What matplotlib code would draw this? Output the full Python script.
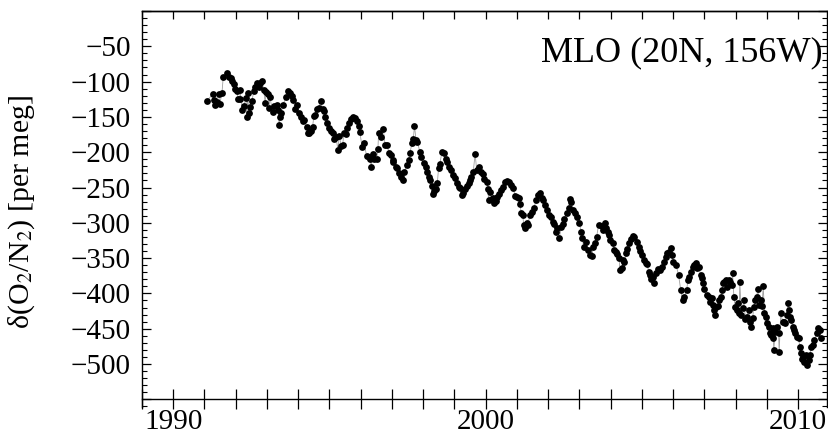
import numpy as np
import matplotlib
matplotlib.use("Agg")
import matplotlib.pyplot as plt
from matplotlib.ticker import MultipleLocator, FixedLocator, FuncFormatter

plt.rcParams['font.family'] = ['Liberation Serif', 'DejaVu Serif']
plt.rcParams['mathtext.fontset'] = 'stix'

# Flask record at Mauna Loa, decimal year and delta(O2/N2) in per meg
years_1991_1996 = [
    1991.07, 1991.26, 1991.30, 1991.35, 1991.39, 1991.45, 1991.49, 1991.56, 1991.60, 1991.73,
    1991.79, 1991.84, 1991.88, 1991.94, 1991.98, 1992.05, 1992.07, 1992.13, 1992.14, 1992.20,
    1992.26, 1992.33, 1992.35, 1992.39, 1992.41, 1992.45, 1992.52, 1992.58, 1992.62, 1992.69,
    1992.73, 1992.77, 1992.84, 1992.90, 1992.94, 1992.97, 1993.03, 1993.07, 1993.09, 1993.18,
    1993.24, 1993.31, 1993.35, 1993.39, 1993.41, 1993.46, 1993.50, 1993.61, 1993.67, 1993.73,
    1993.80, 1993.84, 1993.90, 1993.95, 1994.01, 1994.10, 1994.16, 1994.20, 1994.27, 1994.31,
    1994.35, 1994.40, 1994.46, 1994.50, 1994.54, 1994.61, 1994.67, 1994.72, 1994.78, 1994.84,
    1994.87, 1994.93, 1994.99, 1995.06, 1995.12, 1995.16, 1995.21, 1995.27, 1995.31, 1995.38,
    1995.42, 1995.46, 1995.53, 1995.57, 1995.63, 1995.70, 1995.76, 1995.82, 1995.87, 1995.93,
    1995.97, 1996.04, 1996.10, 1996.19, 1996.25, 1996.29, 1996.34, 1996.38, 1996.44, 1996.51,
    1996.55, 1996.57,
]
o2n2_1991_1996 = [
    -127.5, -118.0, -126.1, -133.6, -128.4, -118.0, -131.7, -115.7, -93.0, -87.3,
    -93.0, -95.4, -98.7, -103.4, -111.0, -112.8, -124.2, -124.2, -111.9, -140.2,
    -134.6, -122.8, -149.7, -116.6, -144.9, -135.5, -127.0, -112.8, -108.1, -102.5,
    -108.1, -101.5, -99.6, -111.9, -130.8, -114.3, -117.6, -137.9, -121.3, -142.6,
    -134.6, -133.1, -140.2, -161.5, -150.6, -144.9, -133.6, -122.3, -112.8, -115.7,
    -120.4, -126.1, -139.3, -133.6, -144.9, -150.6, -155.3, -154.4, -164.8, -173.3,
    -172.3, -169.5, -163.8, -148.7, -146.8, -139.3, -137.9, -127.0, -139.3, -141.2,
    -149.7, -158.2, -166.2, -169.5, -173.3, -180.8, -178.9, -196.9, -177.1, -191.2,
    -190.3, -173.3, -174.2, -165.7, -159.1, -153.4, -149.7, -152.0, -155.3, -162.9,
    -170.9, -192.2, -186.5, -205.4, -206.3, -209.2, -220.5, -202.5, -210.1, -210.1,
    -195.9, -173.3,
]

years_1996_2003 = [
    1996.66, 1996.72, 1996.78, 1996.83, 1996.91, 1996.96, 1997.02, 1997.04, 1997.13, 1997.17,
    1997.23, 1997.30, 1997.36, 1997.40, 1997.47, 1997.53, 1997.57, 1997.64, 1997.68, 1997.72,
    1997.77, 1997.81, 1997.89, 1997.94, 1998.02, 1998.09, 1998.13, 1998.17, 1998.21, 1998.28,
    1998.30, 1998.34, 1998.41, 1998.45, 1998.49, 1998.53, 1998.60, 1998.66, 1998.73, 1998.77,
    1998.83, 1998.90, 1998.96, 1999.02, 1999.09, 1999.13, 1999.17, 1999.24, 1999.28, 1999.34,
    1999.39, 1999.45, 1999.49, 1999.54, 1999.60, 1999.66, 1999.71, 1999.77, 1999.84, 1999.90,
    1999.96, 2000.03, 2000.07, 2000.09, 2000.13, 2000.20, 2000.24, 2000.28, 2000.33, 2000.37,
    2000.43, 2000.50, 2000.56, 2000.62, 2000.69, 2000.75, 2000.82, 2000.88, 2000.94, 2001.01,
    2001.05, 2001.09, 2001.14, 2001.18, 2001.22, 2001.26, 2001.31, 2001.35, 2001.41, 2001.48,
    2001.54, 2001.61, 2001.67, 2001.73, 2001.80, 2001.84, 2001.90, 2001.97, 2002.03, 2002.10,
    2002.16, 2002.20, 2002.25, 2002.29, 2002.35, 2002.42, 2002.46, 2002.52, 2002.59, 2002.65,
    2002.69, 2002.74, 2002.80, 2002.86, 2002.93, 2002.99, 2003.06, 2003.08, 2003.14, 2003.21,
    2003.27, 2003.33, 2003.40, 2003.44, 2003.50, 2003.55, 2003.61,
]
o2n2_1996_2003 = [
    -178.0, -166.7, -189.8, -189.8, -200.7, -204.0, -211.0, -213.4, -220.5, -222.8,
    -229.9, -235.6, -239.4, -227.6, -218.6, -211.0, -201.6, -187.4, -181.8, -162.9,
    -182.7, -185.1, -199.2, -207.3, -215.8, -220.5, -227.6, -234.7, -239.4, -247.9,
    -259.2, -254.5, -252.6, -244.1, -222.8, -216.7, -199.2, -201.6, -210.1, -213.4,
    -220.5, -225.2, -232.3, -237.0, -244.1, -248.8, -250.2, -260.6, -257.3, -252.6,
    -247.9, -243.2, -239.4, -234.7, -227.6, -202.5, -225.2, -220.5, -227.6, -230.9,
    -238.4, -241.7, -252.6, -267.7, -255.9, -266.8, -265.3, -272.4, -268.6, -263.0,
    -259.2, -253.5, -249.8, -241.7, -240.3, -241.7, -246.5, -251.2, -262.0, -263.0,
    -265.3, -273.4, -286.6, -289.0, -303.1, -307.8, -299.8, -303.1, -289.0, -284.2,
    -279.5, -267.7, -260.6, -257.3, -265.3, -267.7, -274.8, -281.9, -289.0, -292.3,
    -298.4, -301.7, -312.5, -307.8, -322.0, -306.4, -301.7, -295.1, -286.6, -279.5,
    -266.8, -270.1, -281.9, -286.6, -292.3, -300.7, -312.5, -322.0, -333.8, -326.7,
    -338.5, -345.6, -347.0, -333.8, -329.1, -319.6, -303.1,
]

years_2003_2010 = [
    2003.72, 2003.76, 2003.82, 2003.85, 2003.91, 2003.95, 2003.99, 2004.06, 2004.10, 2004.17,
    2004.21, 2004.27, 2004.29, 2004.36, 2004.40, 2004.44, 2004.49, 2004.53, 2004.59, 2004.66,
    2004.70, 2004.76, 2004.85, 2004.89, 2004.93, 2005.00, 2005.06, 2005.13, 2005.17, 2005.21,
    2005.25, 2005.30, 2005.34, 2005.40, 2005.45, 2005.51, 2005.57, 2005.64, 2005.70, 2005.77,
    2005.81, 2005.87, 2005.94, 2005.96, 2006.00, 2006.09, 2006.17, 2006.24, 2006.30, 2006.36,
    2006.43, 2006.47, 2006.51, 2006.56, 2006.62, 2006.68, 2006.73, 2006.77, 2006.81, 2006.88,
    2006.92, 2006.96, 2007.00, 2007.07, 2007.13, 2007.17, 2007.24, 2007.28, 2007.32, 2007.34,
    2007.37, 2007.43, 2007.47, 2007.52, 2007.56, 2007.60, 2007.64, 2007.69, 2007.73, 2007.77,
    2007.81, 2007.88, 2007.90, 2007.94, 2007.98, 2008.03, 2008.07, 2008.11, 2008.13, 2008.18,
    2008.22, 2008.26, 2008.31, 2008.35, 2008.41, 2008.45, 2008.50, 2008.54, 2008.58, 2008.62,
    2008.67, 2008.71, 2008.75, 2008.80, 2008.84, 2008.88, 2008.92, 2008.97, 2009.01, 2009.05,
    2009.09, 2009.14, 2009.18, 2009.20, 2009.22, 2009.26, 2009.31, 2009.37, 2009.39, 2009.44,
    2009.50, 2009.54, 2009.58, 2009.63, 2009.67, 2009.69, 2009.73, 2009.78, 2009.82, 2009.86,
    2009.90, 2009.95, 2010.01, 2010.05, 2010.10, 2010.12, 2010.16, 2010.20, 2010.25, 2010.29,
    2010.33, 2010.37, 2010.42, 2010.48, 2010.52, 2010.59, 2010.63, 2010.69, 2010.74,
]
o2n2_2003_2010 = [
    -304.5, -310.2, -299.8, -307.8, -312.5, -317.3, -324.4, -329.1, -338.5, -340.9,
    -344.2, -350.3, -366.9, -364.5, -352.7, -355.0, -343.2, -337.6, -329.1, -323.4,
    -318.7, -319.6, -326.7, -333.8, -339.5, -345.6, -352.7, -357.4, -358.4, -369.2,
    -373.9, -380.1, -376.3, -385.7, -371.6, -365.9, -366.9, -362.1, -355.0, -348.0,
    -343.2, -340.9, -336.2, -345.6, -355.0, -359.8, -373.9, -395.2, -409.3, -404.6,
    -395.2, -381.0, -376.3, -369.2, -362.1, -359.8, -357.4, -364.5, -362.1, -373.9,
    -378.7, -385.7, -394.2, -402.3, -404.6, -411.7, -407.0, -416.4, -423.5, -430.6,
    -419.7, -417.8, -409.3, -404.6, -395.2, -385.7, -383.4, -381.0, -390.5, -381.0,
    -383.4, -388.1, -371.6, -404.6, -418.8, -423.5, -414.1, -428.2, -383.4, -430.6,
    -421.1, -409.3, -436.7, -433.0, -423.5, -440.0, -447.1, -435.3, -418.8, -409.3,
    -404.6, -394.2, -416.4, -409.3, -417.8, -389.5, -428.2, -433.0, -442.4, -447.1,
    -455.6, -458.9, -449.5, -463.6, -480.2, -454.2, -447.1, -456.6, -482.5, -428.2,
    -440.0, -440.0, -442.4, -430.6, -414.1, -423.5, -433.0, -437.7, -447.1, -451.8,
    -456.6, -461.3, -463.6, -475.4, -484.9, -493.4, -489.6, -496.7, -487.2, -501.4,
    -494.3, -487.2, -475.4, -473.1, -466.0, -456.6, -449.5, -451.8, -463.6,
]

station_label = "MLO (20N, 156W)"
y_label = r"δ(O$_2$/N$_2$) [per meg]"
x_ticks = [1990, 2000, 2010]

t = np.array(years_1991_1996 + years_1996_2003 + years_2003_2010)
v = np.array(o2n2_1991_1996 + o2n2_1996_2003 + o2n2_2003_2010)
order = np.argsort(t, kind="stable")
t, v = t[order], v[order]

W, H = 829, 438
fig = plt.figure(figsize=(W / 100, H / 100), dpi=100)
left_px, right_px, top_px, bot_px = 142.0, 827.3, 11.0, 407.0
ax = fig.add_axes([left_px / W, 1 - bot_px / H, (right_px - left_px) / W, (bot_px - top_px) / H])

ax.plot(t, v, color="#a0a0a0", lw=0.6, zorder=2)
ax.plot(t, v, ls="none", marker="o", ms=4.9, mfc="black", mec="black", mew=0, zorder=3)

ax.set_xlim(1989.0, 2010.93)
ax.set_ylim(-560.9, 0)

# x axis drawn as a line at -550 with crossing year ticks
ax.spines["bottom"].set_position(("data", -550))
for s in ["left", "right", "top", "bottom"]:
    ax.spines[s].set_linewidth(1.0)
    ax.spines[s].set_color("black")

ax.xaxis.set_major_locator(MultipleLocator(1))
ax.xaxis.set_major_formatter(FuncFormatter(lambda x, p: f"{int(round(x))}" if int(round(x)) in x_ticks else ""))
ax.tick_params(axis="x", which="major", direction="inout", length=14, width=0.9,
               labelsize=21, pad=0, top=False, bottom=True)

top = ax.secondary_xaxis("top")
top.xaxis.set_major_locator(MultipleLocator(1))
top.tick_params(axis="x", direction="in", length=6, width=0.9, labeltop=False)
top.spines["top"].set_linewidth(1.0)

ax.yaxis.set_major_locator(FixedLocator(list(range(-550, 1, 50))))
ax.yaxis.set_minor_locator(MultipleLocator(10))
ax.yaxis.set_major_formatter(FuncFormatter(lambda y, p: "" if y in (0, -550) else f"\u2212{abs(int(y))}"))
ax.tick_params(axis="y", which="major", direction="in", length=6.5, width=0.9,
               labelsize=21, pad=8, left=True, right=True)
ax.tick_params(axis="y", which="minor", direction="in", length=3.5, width=0.8,
               left=True, right=True)

fig.text(823 / W, 1 - 61 / H, station_label, ha="right", va="baseline", fontsize=26)
fig.text(22 / W, 1 - 212 / H, y_label, rotation=90, ha="center", va="center", fontsize=21.5)

fig.savefig("out.png", dpi=100, facecolor="white")
